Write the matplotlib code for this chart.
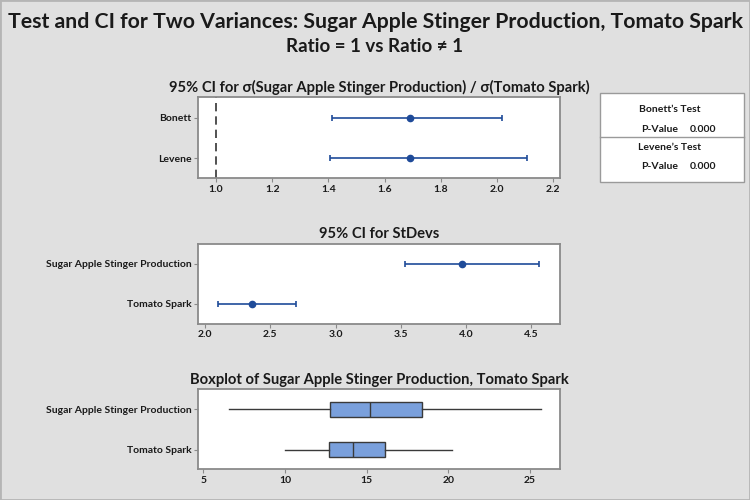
import matplotlib
matplotlib.use("Agg")
import matplotlib.pyplot as plt
from matplotlib.patches import Rectangle
from matplotlib.lines import Line2D

plt.rcParams['font.family'] = ['Lato', 'DejaVu Sans']

# ---------------- data ----------------
main_title = "Test and CI for Two Variances: Sugar Apple Stinger Production, Tomato Spark"
sub_title = "Ratio = 1 vs Ratio \u2260 1"

ratio_title = "95% CI for \u03c3(Sugar Apple Stinger Production) / \u03c3(Tomato Spark)"
ratio_methods = ["Levene", "Bonett"]
ratio_est = [1.69, 1.69]
ratio_lo = [1.404, 1.413]
ratio_hi = [2.108, 2.019]
ratio_ticks = [1.0, 1.2, 1.4, 1.6, 1.8, 2.0, 2.2]
ratio_ref = 1.0

sd_title = "95% CI for StDevs"
groups = ["Tomato Spark", "Sugar Apple Stinger Production"]
sd_est = [2.36, 3.97]
sd_lo = [2.096, 3.533]
sd_hi = [2.698, 4.561]
sd_ticks = [2.0, 2.5, 3.0, 3.5, 4.0, 4.5]

box_title = "Boxplot of Sugar Apple Stinger Production, Tomato Spark"
box_whislo = [9.99, 6.55]
box_q1 = [12.69, 12.76]
box_med = [14.17, 15.18]
box_q3 = [16.14, 18.39]
box_whishi = [20.22, 25.66]
box_ticks = [5, 10, 15, 20, 25]

tests = ["Bonett\u2019s Test", "Levene\u2019s Test"]
pvalues = ["0.000", "0.000"]

# ---------------- style ----------------
BG = "#e0e0e0"
BLUE = "#1f4b99"
BOXFILL = "#7aa0dc"
SPINE = "#8a8a8a"
TXT = "#1a1a1a"
TICKFS = 7.5
PANELFS = 10.6

W, H = 750, 500
fig = plt.figure(figsize=(7.5, 5), dpi=100, facecolor=BG)

def fx(px):
    return px / W

def fy(py):
    return 1 - py / H

def make_ax(top, bottom):
    ax = fig.add_axes([fx(198.3), fy(bottom), fx(560) - fx(198.3), fy(top) - fy(bottom)])
    ax.set_facecolor("white")
    for s in ax.spines.values():
        s.set_color(SPINE)
        s.set_linewidth(1.3)
    ax.tick_params(axis='both', length=3, width=0.8, color=SPINE, pad=2,
                   labelsize=TICKFS, labelcolor=TXT)
    ax.set_ylim(-0.49, 1.5)
    return ax

def style_ticklabels(ax):
    for lab in ax.get_xticklabels() + ax.get_yticklabels():
        lab.set_fontweight('bold')
        lab.set_fontsize(TICKFS)
        lab.set_color(TXT)

# ---- Panel 1: ratio CI ----
ax1 = make_ax(97.3, 178.3)
ypos = list(range(len(ratio_methods)))
xerr1 = [[e - l for e, l in zip(ratio_est, ratio_lo)], [h - e for e, h in zip(ratio_est, ratio_hi)]]
ax1.errorbar(ratio_est, ypos, xerr=xerr1, fmt='o', color=BLUE, ms=4.5, lw=1.2,
             capsize=2, capthick=1.2, elinewidth=1.2)
ax1.axvline(ratio_ref, color="#333333", lw=1.2, ls=(0, (5, 3)))
ax1.set_xlim(0.937, 2.224)
ax1.set_xticks(ratio_ticks)
ax1.set_xticklabels([f"{t:.1f}" for t in ratio_ticks])
ax1.set_yticks(ypos)
ax1.set_yticklabels(ratio_methods)
style_ticklabels(ax1)
ax1.set_title(ratio_title, fontsize=PANELFS, fontweight='bold', color=TXT, pad=4)

# ---- Panel 2: StDev CIs ----
ax2 = make_ax(244, 323.5)
ypos2 = list(range(len(groups)))
xerr2 = [[e - l for e, l in zip(sd_est, sd_lo)], [h - e for e, h in zip(sd_est, sd_hi)]]
ax2.errorbar(sd_est, ypos2, xerr=xerr2, fmt='o', color=BLUE, ms=4.5, lw=1.2,
             capsize=2, capthick=1.2, elinewidth=1.2)
ax2.set_xlim(1.947, 4.722)
ax2.set_xticks(sd_ticks)
ax2.set_xticklabels([f"{t:.1f}" for t in sd_ticks])
ax2.set_yticks(ypos2)
ax2.set_yticklabels(groups)
style_ticklabels(ax2)
ax2.set_title(sd_title, fontsize=PANELFS, fontweight='bold', color=TXT, pad=4)

# ---- Panel 3: boxplot ----
ax3 = make_ax(389.3, 469.3)
stats = []
for i in range(len(groups)):
    stats.append(dict(whislo=box_whislo[i], q1=box_q1[i], med=box_med[i],
                      q3=box_q3[i], whishi=box_whishi[i], fliers=[]))
ax3.bxp(stats, positions=ypos2, widths=0.38, vert=False, patch_artist=True,
        showcaps=False, showfliers=False,
        boxprops=dict(facecolor=BOXFILL, edgecolor="#3a3a3a", linewidth=1.0),
        medianprops=dict(color="#3a3a3a", linewidth=1.0),
        whiskerprops=dict(color="#3a3a3a", linewidth=1.0))
ax3.set_xlim(4.69, 26.84)
ax3.set_xticks(box_ticks)
ax3.set_xticklabels([str(t) for t in box_ticks])
ax3.set_yticks(ypos2)
ax3.set_yticklabels(groups)
style_ticklabels(ax3)
ax3.set_title(box_title, fontsize=PANELFS, fontweight='bold', color=TXT, pad=4)

# ---- p-value table ----
fig.patches.append(Rectangle((fx(600), fy(181.7)), fx(744) - fx(600), fy(93.3) - fy(181.7),
                             transform=fig.transFigure, facecolor="white",
                             edgecolor="#9a9a9a", linewidth=1.0))
fig.lines.append(Line2D([fx(600), fx(744)], [fy(136.7), fy(136.7)],
                        transform=fig.transFigure, color="#9a9a9a", linewidth=1.0))
row_y = [(110, 129), (147.7, 166.7)]
for (ty, py), t, p in zip(row_y, tests, pvalues):
    fig.text(fx(670), fy(ty), t, ha='center', va='center', fontsize=TICKFS,
             fontweight='bold', color=TXT)
    fig.text(fx(678), fy(py), "P-Value", ha='right', va='center', fontsize=TICKFS,
             fontweight='bold', color=TXT)
    fig.text(fx(690), fy(py), p, ha='left', va='center', fontsize=TICKFS,
             fontweight='bold', color=TXT)

# ---- titles ----
t1 = fig.text(0.5, fy(22), main_title, ha='center', va='center', fontsize=14,
              fontweight='bold', color=TXT)
t2 = fig.text(0.5, fy(46), sub_title, ha='center', va='center', fontsize=11,
              fontweight='bold', color=TXT)

# fit title widths
fig.canvas.draw()
r = fig.canvas.get_renderer()
for t, target in [(t1, 740.0), (t2, 177.0)]:
    w = t.get_window_extent(r).width
    t.set_fontsize(t.get_fontsize() * target / w)

# outer border
fig.patches.append(Rectangle((0, 0), 1, 1, transform=fig.transFigure, fill=False,
                             edgecolor="#b5b5b5", linewidth=2))

fig.savefig("out.png", dpi=100, facecolor=BG)
